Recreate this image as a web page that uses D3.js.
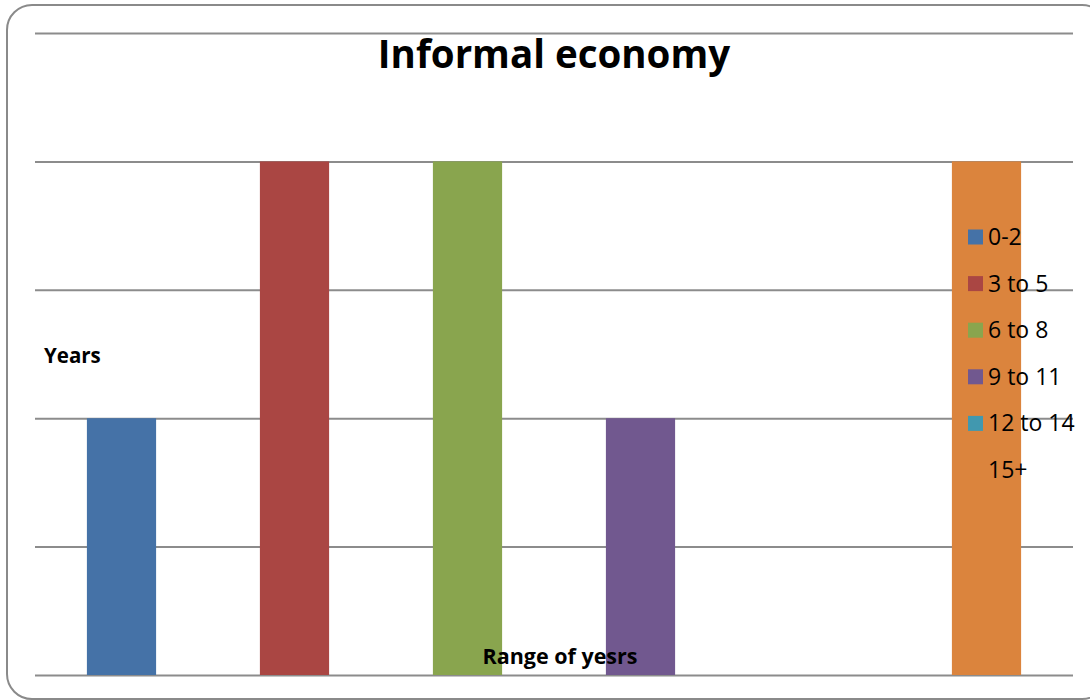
<!DOCTYPE html>
<html>
<head>
<meta charset="utf-8">
<script src="https://cdn.jsdelivr.net/npm/d3@7"></script>
<style>
  body { margin: 0; background: #fff; }
  text { font-family: "Open Sans", "Liberation Sans", sans-serif; }
</style>
</head>
<body>
<div class="chart"></div>
<script>
(function() {
  'use strict';

  const WIDTH = 1090;
  const HEIGHT = 700;

  // Chart data
  const CATEGORIES = ['0-2', '3 to 5', '6 to 8', '9 to 11', '12 to 14', '15+'];
  const VALUES = [2, 4, 4, 2, 0, 4];
  const Y_TICKS = [0, 1, 2, 3, 4, 5];
  const COLORS = ['#4572A7', '#AA4643', '#89A54E', '#71588F', '#4198AF', '#DB843D'];

  const plot = { left: 35, right: 1073, top: 33, bottom: 675 };

  const svg = d3.select('.chart')
    .append('svg')
    .attr('width', WIDTH)
    .attr('height', HEIGHT);

  // Outer frame
  svg.append('rect')
    .attr('x', 7).attr('y', 5)
    .attr('width', 1100).attr('height', 694)
    .attr('rx', 25).attr('ry', 25)
    .attr('fill', '#fff')
    .attr('stroke', '#8a8a8a')
    .attr('stroke-width', 2);

  const x = d3.scaleBand()
    .domain(CATEGORIES)
    .range([plot.left, plot.right])
    .paddingInner(0.6)
    .paddingOuter(0.3);

  const y = d3.scaleLinear()
    .domain([0, 5])
    .range([plot.bottom, plot.top]);

  // Gridlines
  svg.append('g')
    .attr('class', 'grid')
    .attr('transform', 'translate(' + plot.left + ',0)')
    .call(d3.axisLeft(y).tickValues(Y_TICKS).tickSize(-(plot.right - plot.left)).tickFormat(''))
    .call(g => g.select('.domain').remove())
    .call(g => g.selectAll('line').attr('stroke', '#8c8c8c').attr('stroke-width', 2));

  // Bars
  svg.append('g')
    .selectAll('rect')
    .data(CATEGORIES)
    .enter()
    .append('rect')
    .attr('x', d => x(d))
    .attr('width', x.bandwidth())
    .attr('y', (d, i) => y(VALUES[i]))
    .attr('height', (d, i) => y(0) - y(VALUES[i]))
    .attr('fill', (d, i) => COLORS[i]);

  // Title
  svg.append('text')
    .attr('x', 554).attr('y', 68)
    .attr('text-anchor', 'middle')
    .attr('font-size', 38.5)
    .attr('font-weight', 'bold')
    .text('Informal economy');

  // Axis titles
  svg.append('text')
    .attr('x', 44).attr('y', 363)
    .attr('font-size', 20.5)
    .attr('font-weight', 'bold')
    .text('Years');

  svg.append('text')
    .attr('x', 560).attr('y', 664)
    .attr('text-anchor', 'middle')
    .attr('font-size', 21.5)
    .attr('font-weight', 'bold')
    .text('Range of yesrs');

  // Legend
  const legend = svg.append('g')
    .attr('class', 'legend')
    .selectAll('g')
    .data(CATEGORIES)
    .enter()
    .append('g')
    .attr('transform', (d, i) => 'translate(968,' + (237 + i * 46.6) + ')');

  legend.append('rect')
    .attr('x', 0).attr('y', -7.5)
    .attr('width', 15).attr('height', 15)
    .attr('fill', (d, i) => COLORS[i]);

  legend.append('text')
    .attr('x', 20).attr('y', 8)
    .attr('font-size', 23)
    .attr('fill', '#000')
    .text(d => d);
})();
</script>
</body>
</html>
